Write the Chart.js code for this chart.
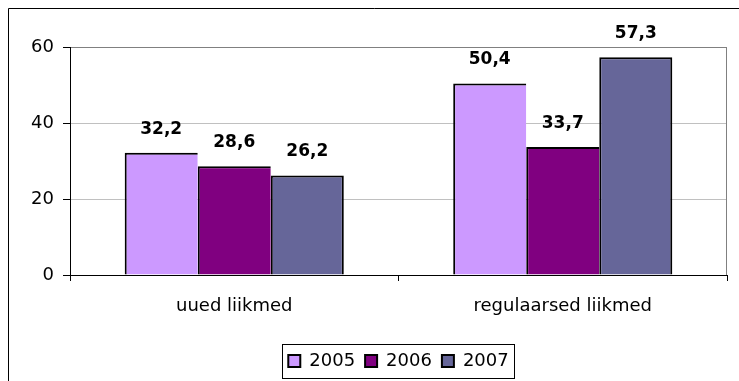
<!DOCTYPE html>
<html>
<head>
<meta charset="utf-8">
<script src="https://cdn.jsdelivr.net/npm/chart.js@4.4.1/dist/chart.umd.min.js"></script>
<style>
  html, body { margin: 0; padding: 0; background: #fff; }
  #wrap { width: 739px; height: 381px; }
</style>
</head>
<body>
<div id="wrap"><canvas id="c" width="739" height="381"></canvas></div>
<script>
// Member counts by group and year
const categories = ['uued liikmed', 'regulaarsed liikmed'];
const seriesNames = ['2005', '2006', '2007'];
const values2005 = [32.2, 50.4];
const values2006 = [28.6, 33.7];
const values2007 = [26.2, 57.3];
const yTicks = [0, 20, 40, 60];

const FONT = 'DejaVu Sans';

// Outer frame, plot border and the value labels above each bar
const decorations = {
  id: 'decorations',
  beforeDatasetsDraw(chart) {
    const { ctx, chartArea } = chart;
    ctx.save();
    ctx.strokeStyle = '#808080';
    ctx.lineWidth = 1;
    ctx.beginPath();
    ctx.moveTo(chartArea.right - 0.5, chartArea.top);
    ctx.lineTo(chartArea.right - 0.5, chartArea.bottom);
    ctx.stroke();
    ctx.restore();
  },
  afterDraw(chart) {
    const { ctx } = chart;
    ctx.save();
    // frame around the whole figure
    ctx.strokeStyle = '#000';
    ctx.lineWidth = 1;
    ctx.beginPath();
    ctx.moveTo(8.5, chart.height + 2);
    ctx.lineTo(8.5, 8.5);
    ctx.lineTo(chart.width + 2, 8.5);
    ctx.stroke();

    // value labels
    ctx.fillStyle = '#000';
    ctx.font = 'bold 17px "' + FONT + '"';
    ctx.textAlign = 'center';
    ctx.textBaseline = 'alphabetic';
    chart.data.datasets.forEach((ds, di) => {
      chart.getDatasetMeta(di).data.forEach((bar, i) => {
        const txt = ds.data[i].toFixed(1).replace('.', ',');
        ctx.fillText(txt, bar.x, bar.y - 19);
      });
    });

    // box around the legend
    const lg = chart.legend;
    if (lg && lg.legendHitBoxes && lg.legendHitBoxes.length) {
      const first = lg.legendHitBoxes[0];
      const last = lg.legendHitBoxes[lg.legendHitBoxes.length - 1];
      const x0 = Math.round(first.left - 6) + 0.5;
      const x1 = Math.round(last.left + last.width + 5) + 0.5;
      const y0 = Math.round(lg.top + 2) + 0.5;
      const y1 = y0 + 34;
      ctx.strokeStyle = '#000';
      ctx.lineWidth = 1;
      ctx.strokeRect(x0, y0, x1 - x0, y1 - y0);
    }
    ctx.restore();
  }
};

const colors = ['#CC99FF', '#800080', '#666699'];
const seriesValues = [values2005, values2006, values2007];

new Chart(document.getElementById('c'), {
  type: 'bar',
  data: {
    labels: categories,
    datasets: seriesNames.map((name, i) => ({
      label: name,
      data: seriesValues[i],
      backgroundColor: colors[i],
      borderColor: '#000',
      borderWidth: i === seriesNames.length - 1
        ? { top: 2, left: 2, right: 2, bottom: 0 }
        : { top: 2, left: 2, right: 0, bottom: 0 },
      borderSkipped: 'start',
      categoryPercentage: 0.667,
      barPercentage: 1.0
    }))
  },
  options: {
    responsive: false,
    devicePixelRatio: 1,
    animation: false,
    layout: { padding: { left: 8, right: 12, top: 47, bottom: 1 } },
    plugins: {
      tooltip: { enabled: false },
      legend: {
        position: 'bottom',
        fullSize: false,
        labels: {
          font: { family: FONT, size: 18 },
          color: '#000',
          boxWidth: 12,
          boxHeight: 12,
          padding: 10,
          generateLabels(chart) {
            const items = Chart.defaults.plugins.legend.labels.generateLabels(chart);
            items.forEach(it => { it.lineWidth = 2; it.strokeStyle = '#000'; });
            return items;
          }
        }
      }
    },
    scales: {
      x: {
        grid: {
          display: true,
          drawOnChartArea: false,
          drawTicks: true,
          tickLength: 6,
          tickColor: '#000',
          offset: true
        },
        border: { color: '#000', width: 1 },
        ticks: {
          font: { family: FONT, size: 18 },
          color: '#000',
          padding: 15,
          maxRotation: 0
        },
        afterFit(scale) { scale.height = 67; }
      },
      y: {
        min: yTicks[0],
        max: yTicks[yTicks.length - 1],
        afterBuildTicks(scale) { scale.ticks = yTicks.map(v => ({ value: v })); },
        grid: {
          color: ctx => (ctx.tick && ctx.tick.value === 60) ? '#808080' : '#c0c0c0',
          tickColor: '#000',
          tickLength: 7
        },
        border: { color: '#000', width: 1 },
        ticks: {
          font: { family: FONT, size: 18 },
          color: '#000',
          padding: 9
        },
        afterFit(scale) { scale.width = 62; }
      }
    }
  },
  plugins: [decorations]
});
</script>
</body>
</html>
